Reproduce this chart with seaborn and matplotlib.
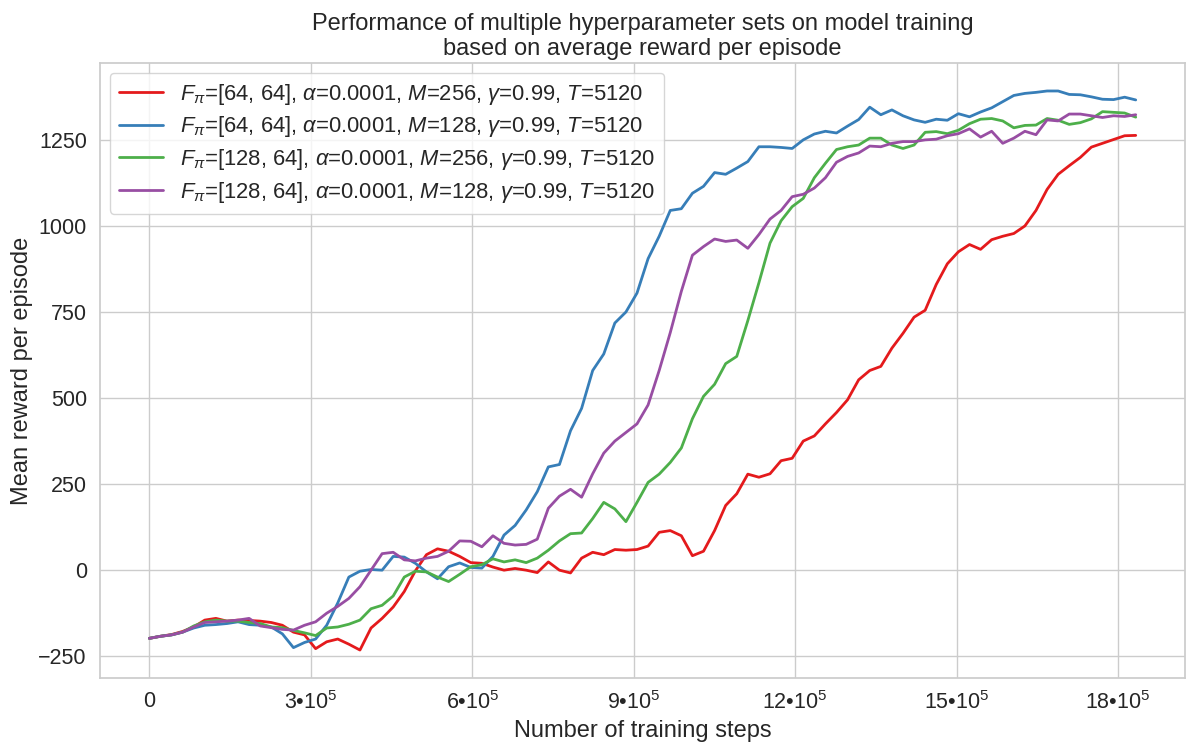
import matplotlib
matplotlib.use("Agg")
import matplotlib.pyplot as plt
import seaborn as sns
import pandas as pd
import numpy as np

# ---------------------------------------------------
# Theme
# ---------------------------------------------------

sns.set_theme(style="whitegrid")
plt.rcParams["font.family"] = ["Liberation Sans", "DejaVu Sans"]
plt.rcParams["mathtext.fontset"] = "custom"
plt.rcParams["mathtext.rm"] = "Liberation Sans"
plt.rcParams["mathtext.it"] = "Liberation Sans:italic"
plt.rcParams["mathtext.bf"] = "Liberation Sans:bold"

PALETTE = ["#e41a1c", "#377eb8", "#4daf4a", "#984ea3"]

# ---------------------------------------------------
# Data (mean reward per episode)
# ---------------------------------------------------

LAST_STEP = 1_832_960

red = [
    -198, -192, -187, -178, -165, -145, -140, -148, -145, -146,
    -148, -152, -160, -180, -188, -228, -208, -200, -215, -232,
    -168, -140, -107, -62, -2, 45, 62, 55, 40, 22,
    20, 9, 0, 5, 0, -7, 24, 0, -8, 35,
    52, 45, 60, 58, 60, 70, 110, 115, 100, 42,
    55, 115, 188, 222, 279, 270, 280, 318, 325, 375,
    390, 425, 458, 495, 553, 580, 592, 645, 688, 735,
    755, 830, 890, 925, 946, 932, 960, 970, 978, 1000,
    1045, 1106, 1150, 1175, 1199, 1229, 1240, 1251, 1262, 1263,
]

blue = [
    -198, -192, -188, -180, -168, -160, -158, -155, -150, -158,
    -160, -165, -185, -225, -210, -200, -160, -95, -20, -3,
    2, 0, 40, 38, 20, -5, -25, 10, 21, 8,
    6, 40, 102, 130, 175, 228, 300, 307, 405, 470,
    580, 628, 718, 750, 805, 905, 970, 1045, 1050, 1095,
    1115, 1155, 1150, 1168, 1187, 1230, 1230, 1228, 1225, 1250,
    1267, 1275, 1270, 1290, 1309, 1345, 1323, 1337, 1320, 1308,
    1301, 1310, 1307, 1326, 1317, 1331, 1343, 1361, 1379, 1385,
    1388, 1392, 1392, 1382, 1381, 1375, 1368, 1367, 1374, 1366,
]

green = [
    -198, -192, -188, -180, -162, -150, -145, -148, -148, -152,
    -155, -165, -167, -175, -182, -190, -168, -165, -157, -145,
    -112, -102, -75, -20, -3, -5, -20, -33, -12, 10,
    16, 33, 24, 30, 22, 35, 58, 85, 106, 108,
    150, 197, 178, 141, 197, 255, 279, 313, 355, 440,
    505, 540, 600, 621, 725, 835, 950, 1015, 1056, 1080,
    1140, 1182, 1222, 1230, 1235, 1255, 1255, 1235, 1225, 1235,
    1272, 1274, 1268, 1278, 1297, 1310, 1312, 1305, 1285, 1292,
    1293, 1312, 1307, 1295, 1300, 1311, 1332, 1330, 1328, 1316,
]

purple = [
    -198, -192, -188, -180, -165, -152, -150, -148, -145, -140,
    -162, -167, -172, -174, -160, -150, -125, -105, -82, -48,
    0, 48, 52, 30, 27, 35, 40, 55, 85, 84,
    68, 100, 78, 73, 75, 90, 180, 215, 235, 212,
    280, 340, 375, 400, 425, 480, 580, 690, 810, 915,
    940, 962, 955, 959, 935, 975, 1020, 1045, 1085, 1092,
    1110, 1140, 1185, 1202, 1212, 1232, 1230, 1240, 1245, 1245,
    1250, 1252, 1262, 1268, 1282, 1258, 1275, 1240, 1255, 1275,
    1265, 1308, 1305, 1325, 1325, 1320, 1315, 1320, 1318, 1323,
]

labels = [
    r"$F_\pi$=[64, 64], $\alpha$=0.0001, $M$=256, $\gamma$=0.99, $T$=5120",
    r"$F_\pi$=[64, 64], $\alpha$=0.0001, $M$=128, $\gamma$=0.99, $T$=5120",
    r"$F_\pi$=[128, 64], $\alpha$=0.0001, $M$=256, $\gamma$=0.99, $T$=5120",
    r"$F_\pi$=[128, 64], $\alpha$=0.0001, $M$=128, $\gamma$=0.99, $T$=5120",
]

x_ticks = [0, 300_000, 600_000, 900_000, 1_200_000, 1_500_000, 1_800_000]
x_tick_labels = ["0", "3•10$^{5}$", "6•10$^{5}$", "9•10$^{5}$",
                 "12•10$^{5}$", "15•10$^{5}$", "18•10$^{5}$"]
y_ticks = [-250, 0, 250, 500, 750, 1000, 1250]

# ---------------------------------------------------
# Long-form table
# ---------------------------------------------------

frames = []
for label, values in zip(labels, [red, blue, green, purple]):
    steps = np.linspace(0, LAST_STEP, len(values))
    frames.append(pd.DataFrame({"step": steps, "reward": values, "config": label}))
df = pd.concat(frames, ignore_index=True)

# ---------------------------------------------------
# Plot
# ---------------------------------------------------

fig, ax = plt.subplots(figsize=(11.94, 7.54), dpi=100)
fig.subplots_adjust(left=0.0838, right=0.9925, bottom=0.1008, top=0.9164)

sns.lineplot(
    data=df,
    x="step",
    y="reward",
    hue="config",
    hue_order=labels,
    palette=PALETTE,
    linewidth=2.0,
    ax=ax,
)

ax.set_xticks(x_ticks)
ax.set_xticklabels(x_tick_labels)
ax.set_yticks(y_ticks)
ax.tick_params(axis="both", labelsize=15.5)

ax.set_title("Performance of multiple hyperparameter sets on model training\n"
             "based on average reward per episode", fontsize=17, linespacing=1.15)
ax.set_xlabel("Number of training steps", fontsize=17)
ax.set_ylabel("Mean reward per episode", fontsize=17)

ax.legend(title=None, loc="upper left", fontsize=15.8,
          labelspacing=0.35, borderaxespad=0.45)

fig.savefig("out.png", dpi=100)
plt.close(fig)
